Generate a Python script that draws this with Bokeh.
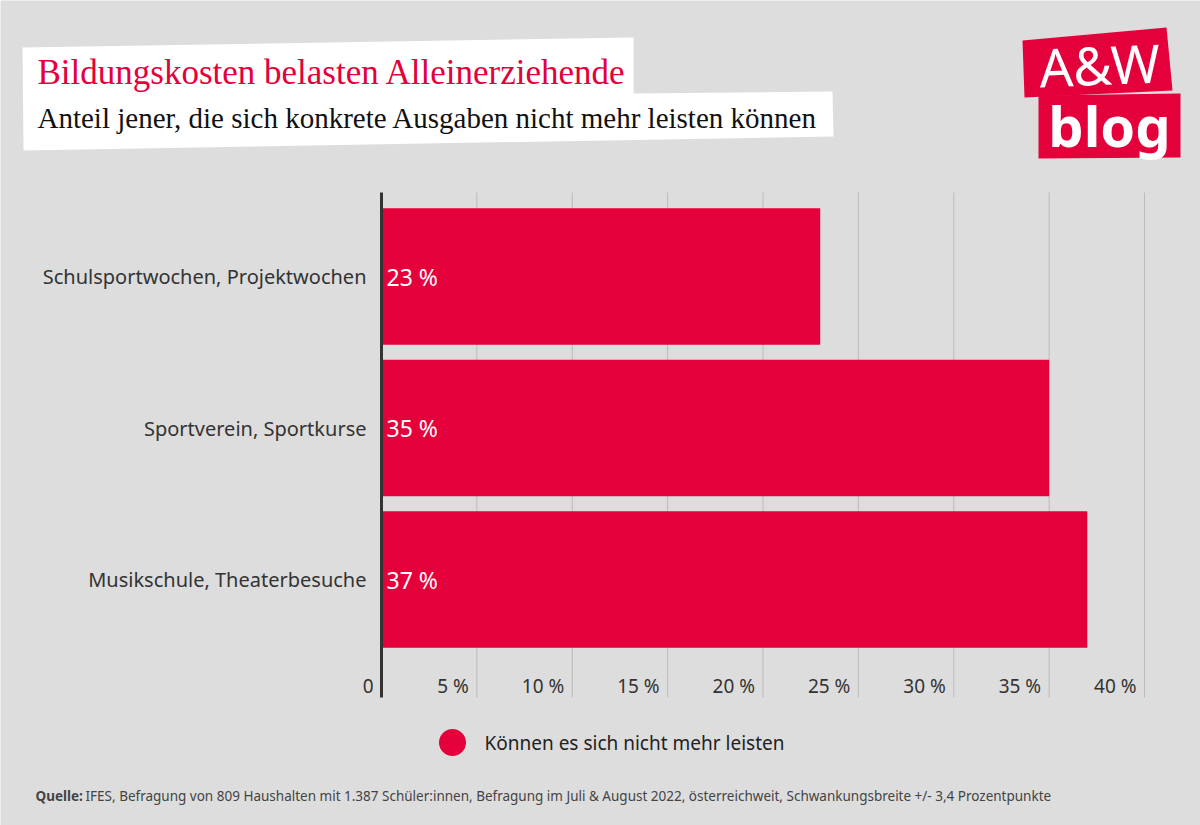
from bokeh.plotting import figure
from bokeh.models import Range1d, ColumnDataSource
from bokeh.core.properties import value
from bokeh.embed import file_html
from bokeh.resources import INLINE

# ---- data ----
categories = ["Schulsportwochen, Projektwochen", "Sportverein, Sportkurse", "Musikschule, Theaterbesuche"]
values = [23, 35, 37]
value_labels = ["23 %", "35 %", "37 %"]
x_ticks = [0, 5, 10, 15, 20, 25, 30, 35, 40]
x_tick_labels = ["0", "5 %", "10 %", "15 %", "20 %", "25 %", "30 %", "35 %", "40 %"]
title = "Bildungskosten belasten Alleinerziehende"
subtitle = "Anteil jener, die sich konkrete Ausgaben nicht mehr leisten können"
legend_label = "Können es sich nicht mehr leisten"
source_bold = "Quelle:"
source_text = "IFES, Befragung von 809 Haushalten mit 1.387 Schüler:innen, Befragung im Juli & August 2022, österreichweit, Schwankungsbreite +/- 3,4 Prozentpunkte"

BG = "#dddddd"
RED = "#e4003a"
SANS = "Noto Sans"
SERIF = "Liberation Serif"

p = figure(width=1200, height=825, x_range=Range1d(0, 1200), y_range=Range1d(825, 0),
           output_backend="svg", toolbar_location=None, min_border=0)
p.axis.visible = False
p.grid.visible = False
p.outline_line_color = None
p.background_fill_color = BG
p.border_fill_color = BG

# chart scales: percent on x, category index on y
p.extra_x_ranges = {"pct": Range1d(-(381 / 19.075), 40 + (1200 - 1144) / 19.075)}
p.extra_y_ranges = {"cat": Range1d((825 - 276) / 151.5, -276 / 151.5)}
Y_TOP, Y_BOT = -0.554, 2.779

# ---- header ----
p.patch([22, 633, 633, 832, 833, 23], [47, 37, 93, 91, 136, 150], fill_color="white", line_color=None)
p.patch([1022, 1166, 1172, 1024], [40, 27, 90, 97], fill_color=RED, line_color=None)
p.patch([1038, 1180, 1180, 1038], [95, 93, 157, 158], fill_color=RED, line_color=None)
p.text(x=[37], y=[72], text=[title], text_color=RED, text_font=value(SERIF),
       text_font_size="35px", text_baseline="middle")
p.text(x=[37], y=[117], text=[subtitle], text_color="#111111", text_font=value(SERIF),
       text_font_size="29px", text_baseline="middle")
p.text(x=[1099], y=[64], text=["A&W"], text_color="white", text_font=value(SANS),
       text_font_size="53px", text_baseline="middle", text_align="center", angle=0.04)
p.text(x=[1109], y=[124], text=["blog"], text_color="white", text_font=value(SANS),
       text_font_style="bold", text_font_size="56px", text_baseline="middle", text_align="center")

# ---- chart ----
ypos = list(range(len(categories)))
src = ColumnDataSource(dict(y=ypos, v=values, lab=value_labels, cat=categories))
gx = x_ticks[1:]
p.segment(x0=gx, x1=gx, y0=[Y_TOP] * len(gx), y1=[Y_BOT] * len(gx), line_color="#bbbbbb",
          line_width=1, x_range_name="pct", y_range_name="cat")
p.hbar(y="y", right="v", left=0, height=0.9, source=src, fill_color=RED, line_color=None,
       x_range_name="pct", y_range_name="cat")
p.segment(x0=[0], x1=[0], y0=[Y_TOP], y1=[Y_BOT], line_color="#333333", line_width=3,
          x_range_name="pct", y_range_name="cat")
p.text(x=0, y="y", text="lab", source=src, text_color="white", text_font=value(SANS),
       text_font_size="23px", text_baseline="middle", x_offset=5,
       x_range_name="pct", y_range_name="cat")
p.text(x=0, y="y", text="cat", source=src, text_color="#333333", text_font=value(SANS),
       text_font_size="20px", text_baseline="middle", text_align="right", x_offset=-15,
       x_range_name="pct", y_range_name="cat")
p.text(x=x_ticks, y=[2.706] * len(x_ticks), text=x_tick_labels, text_color="#333333",
       text_font=value(SANS), text_font_size="19px", text_baseline="middle", text_align="right",
       x_offset=-8, x_range_name="pct", y_range_name="cat")

# ---- footer ----
p.scatter(x=[452], y=[742], size=27, marker="circle", fill_color=RED, line_color=None)
p.text(x=[484], y=[742], text=[legend_label], text_color="#222222", text_font=value(SANS),
       text_font_size="19px", text_baseline="middle")
p.text(x=[35], y=[795], text=[source_bold], text_color="#444444", text_font=value(SANS),
       text_font_style="bold", text_font_size="13.5px", text_baseline="middle")
p.text(x=[85], y=[795], text=[source_text], text_color="#444444", text_font=value(SANS),
       text_font_size="13.5px", text_baseline="middle")

open("out.html", "w").write(file_html(p, INLINE))
